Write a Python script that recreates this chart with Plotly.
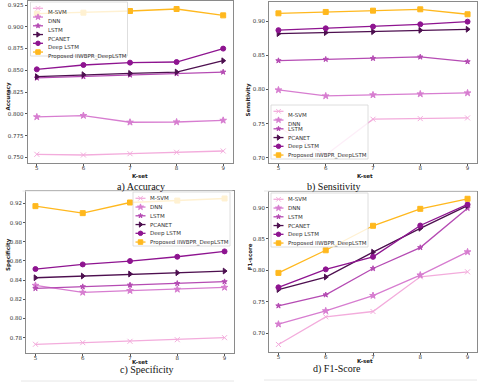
import plotly.graph_objects as go

W, H = 480, 382

k_set = [5, 6, 7, 8, 9]
models = ["M-SVM", "DNN", "LSTM", "PCANET", "Deep LSTM", "Proposed IIWBPR_DeepLSTM"]

# one row per model, same order as `models`
accuracy = [
    [0.7535, 0.7527, 0.7542, 0.7558, 0.7573],
    [0.7964, 0.7980, 0.7903, 0.7906, 0.7925],
    [0.8412, 0.8427, 0.8446, 0.8461, 0.8480],
    [0.8427, 0.8450, 0.8465, 0.8480, 0.8610],
    [0.8511, 0.8561, 0.8588, 0.8595, 0.8749],
    [0.9150, 0.9162, 0.9181, 0.9204, 0.9131],
]
sensitivity = [
    [0.7450, 0.7040, 0.7564, 0.7573, 0.7583],
    [0.7993, 0.7905, 0.7920, 0.7934, 0.7949],
    [0.8423, 0.8443, 0.8457, 0.8477, 0.8408],
    [0.8819, 0.8834, 0.8848, 0.8868, 0.8883],
    [0.8870, 0.8897, 0.8922, 0.8956, 0.8995],
    [0.9117, 0.9137, 0.9156, 0.9176, 0.9103],
]
specificity = [
    [0.7731, 0.7748, 0.7762, 0.7779, 0.7800],
    [0.8345, 0.8272, 0.8290, 0.8304, 0.8324],
    [0.8314, 0.8332, 0.8349, 0.8366, 0.8384],
    [0.8425, 0.8443, 0.8464, 0.8477, 0.8495],
    [0.8516, 0.8564, 0.8599, 0.8644, 0.8700],
    [0.9172, 0.9099, 0.9210, 0.9230, 0.9252],
]
f1_score = [
    [0.6820, 0.7260, 0.7345, 0.7897, 0.7977],
    [0.7143, 0.7355, 0.7599, 0.7925, 0.8294],
    [0.7436, 0.7611, 0.8030, 0.8363, 0.8990],
    [0.7695, 0.7894, 0.8290, 0.8670, 0.9030],
    [0.7730, 0.8016, 0.8215, 0.8714, 0.9050],
    [0.7960, 0.8320, 0.8710, 0.8980, 0.9140],
]

colors = ["#f3acdc", "#d77dd0", "#b54bb3", "#4d0f4f", "#8e1490", "#ffb81e"]
symbols = ["x-thin-open", "star", "star", "triangle-right", "circle", "square"]
sizes = [5, 5, 4, 5, 5, 5]

FONT = "DejaVu Sans"
SERIF = "Liberation Serif"
FS = 5.5


def px(x):
    return x / W


def py(y):
    return 1 - y / H


# data, y-label, caption, (x0, x1, ytop, ybottom) in px, y range, ticks, fmt,
# legend box (left, top), y-title x, caption centre
panels = [
    (accuracy, "Accuracy", "a) Accuracy", (27.5, 232.5, 1, 163), [0.7435, 0.9296],
     [0.750 + 0.025 * i for i in range(8)], ".3f", (30.5, 2), 4, 116),
    (sensitivity, "Sensitivity", "b) Sensitivity", (269, 477, 2, 163), [0.6922, 0.9283],
     [0.70 + 0.05 * i for i in range(5)], ".2f", (271, 105), 247.5, 362),
    (specificity, "Specificity", "c) Specificity", (26, 234, 191, 353), [0.7640, 0.9330],
     [0.78 + 0.02 * i for i in range(8)], ".2f", (133, 192), 4, 119),
    (f1_score, "F1-score", "d) F1-Score", (269, 477, 191.5, 352), [0.6700, 0.9256],
     [0.70 + 0.05 * i for i in range(5)], ".2f", (271, 193), 250, 362),
]

fig = go.Figure()
annotations = []
shapes = []

for i, (data, ylab, caption, box, yr, yticks, fmt, leg, ytx, capx) in enumerate(panels):
    n = i + 1
    xa, ya = "x%d" % n, "y%d" % n
    x0, x1, yt, yb = box
    axis_common = dict(showgrid=False, zeroline=False, showline=True, mirror=True,
                       linecolor="#8a8a8a", linewidth=1, ticks="outside", ticklen=2,
                       tickcolor="#555", automargin=False,
                       tickfont=dict(family=FONT, size=FS, color="#333"))
    fig.layout["xaxis%d" % n] = dict(domain=[px(x0), px(x1)], range=[4.8, 9.2],
                                     anchor=ya, tickvals=k_set, ticklabelstandoff=-3,
                                     **axis_common)
    fig.layout["yaxis%d" % n] = dict(domain=[py(yb), py(yt)], range=yr, anchor=xa,
                                     tickvals=yticks, tickformat=fmt, **axis_common)

    for m, name in enumerate(models):
        fig.add_trace(go.Scatter(
            x=k_set, y=data[m], mode="lines+markers", name=name, showlegend=False,
            xaxis=xa, yaxis=ya,
            line=dict(color=colors[m], width=1.3),
            marker=dict(symbol=symbols[m], size=sizes[m], color=colors[m],
                        line=dict(color=colors[m], width=1)),
        ))

    # axis labels and caption
    mid_x = (x0 + x1) / 2
    annotations.append(dict(text="<b>K-set</b>", x=px(mid_x + 1), y=py(yb + 12.5), xref="paper",
                            yref="paper", showarrow=False, borderpad=0,
                            font=dict(family=FONT, size=FS, color="#222")))
    annotations.append(dict(text="<b>%s</b>" % ylab, x=px(ytx), y=py((yt + yb) / 2), xref="paper",
                            yref="paper", showarrow=False, textangle=-90, borderpad=0,
                            font=dict(family=FONT, size=FS, color="#222")))
    annotations.append(dict(text=caption, x=px(capx), y=py(yb + 24.3), xref="paper", yref="paper",
                            showarrow=False, borderpad=0,
                            font=dict(family=SERIF, size=10, color="#111")))
    shapes.append(dict(type="line", xref="paper", yref="paper", x0=px(x0 - 5), x1=px(x1),
                       y0=py(yb + 28), y1=py(yb + 28), line=dict(color="#e6e6e6", width=1)))

    # matplotlib-style legend drawn on a full-page overlay axis
    lx, ly = leg
    bw, bh, row = 97, 54, 8.75
    fig.add_trace(go.Scatter(
        x=[lx, lx + bw, lx + bw, lx, lx], y=[ly, ly, ly + bh, ly + bh, ly],
        mode="lines", fill="toself", fillcolor="rgba(255,255,255,0.8)",
        line=dict(color="#d6d6d6", width=0.8), xaxis="x5", yaxis="y5",
        showlegend=False, hoverinfo="skip"))
    for m, name in enumerate(models):
        ry = ly + 6.3 + m * row
        fig.add_trace(go.Scatter(
            x=[lx + 2.5, lx + 12.5], y=[ry, ry], mode="lines",
            xaxis="x5", yaxis="y5", showlegend=False, hoverinfo="skip",
            line=dict(color=colors[m], width=1.3)))
        fig.add_trace(go.Scatter(
            x=[lx + 7.5], y=[ry], mode="markers",
            xaxis="x5", yaxis="y5", showlegend=False, hoverinfo="skip",
            marker=dict(symbol=symbols[m], size=sizes[m] - 0.5, color=colors[m],
                        line=dict(color=colors[m], width=1))))
        annotations.append(dict(text=name, x=px(lx + 16), y=py(ry), xref="paper", yref="paper",
                                xanchor="left", showarrow=False, borderpad=0,
                                font=dict(family=FONT, size=FS, color="#333")))

fig.update_layout(
    xaxis5=dict(domain=[0, 1], range=[0, W], visible=False, fixedrange=True, anchor="y5",
                automargin=False),
    yaxis5=dict(domain=[0, 1], range=[H, 0], visible=False, fixedrange=True, anchor="x5",
                automargin=False),
    width=W, height=H, margin=dict(l=0, r=0, t=0, b=0, autoexpand=False),
    paper_bgcolor="white", plot_bgcolor="rgba(0,0,0,0)",
    annotations=annotations, shapes=shapes, showlegend=False,
)

# drop the page's default body margin so the figure sits at the window corner
fig.write_html("out.html", config={"displayModeBar": False},
               post_script="document.body.style.margin = '0';")
